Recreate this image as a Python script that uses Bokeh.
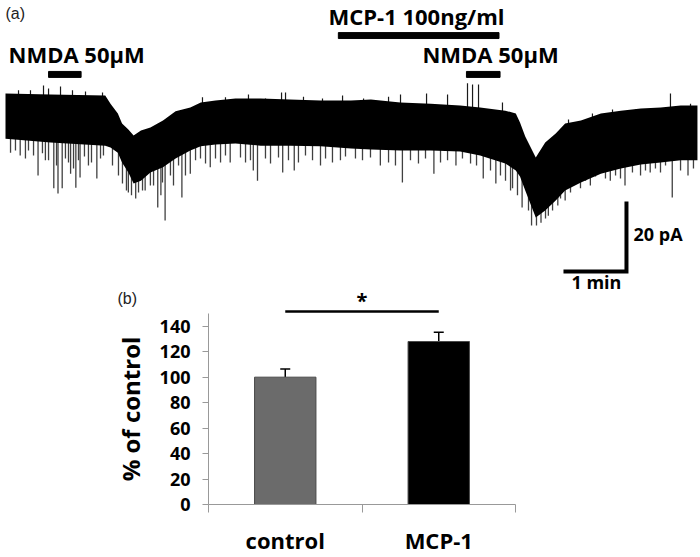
import numpy as np
from bokeh.plotting import figure
from bokeh.layouts import column
from bokeh.models import Range1d, ColumnDataSource, FixedTicker, Whisker, TeeHead
from bokeh.core.properties import value
from bokeh.embed import file_html
from bokeh.resources import INLINE

FONT = "Open Sans"

# ---------------- (a) whole-cell current trace (time in s, current in pA) ----------------
trace_t = [0, 43, 95, 100, 107, 111, 117, 122, 129, 138, 150, 162, 176, 186, 200, 219, 243,
           271, 300, 329, 348, 376, 405, 433, 452, 476, 486, 490, 495, 505, 514, 524, 533, 548,
           567, 586, 605, 624, 643, 659]
trace_upper = [0.0, -0.3, -0.6, -2.9, -5.7, -8.6, -10.3, -12.0, -10.6, -9.7, -7.7, -5.1, -4.0,
               -2.6, -2.0, -1.4, -1.4, -1.7, -2.0, -2.0, -1.7, -2.6, -2.9, -3.4, -4.0, -4.9,
               -5.7, -8.3, -12.3, -18.3, -14.0, -11.4, -8.6, -7.7, -5.7, -4.9, -4.3, -4.0,
               -3.4, -3.4]
trace_lower = [-12.9, -14.0, -14.9, -15.4, -16.9, -19.7, -22.6, -25.7, -24.9, -22.6, -21.1,
               -18.6, -16.3, -15.1, -14.6, -14.3, -14.9, -14.9, -15.1, -15.7, -16.0, -16.3,
               -16.3, -16.6, -17.7, -20.0, -22.0, -23.7, -27.7, -35.4, -33.4, -30.6, -27.7,
               -25.4, -22.9, -21.4, -20.3, -19.7, -19.1, -19.1]

# large inward events (downward deflections)
event_t = [14, 31, 38, 46, 50, 54, 62, 67, 71, 79, 87, 117, 124, 133, 138, 145, 148, 152, 168,
           176, 195, 214, 236, 240, 264, 275, 300, 319, 357, 378, 408, 429, 455, 467, 481, 492,
           501, 510, 517, 526, 533, 557, 576, 590, 614, 635, 650]
event_peak = [-17.7, -23.4, -19.1, -27.1, -28.6, -27.1, -22.9, -26.9, -24.0, -20.6, -24.3,
              -28.3, -30.0, -27.7, -26.3, -32.6, -29.1, -36.3, -29.7, -22.9, -21.1, -19.7,
              -22.0, -24.9, -22.6, -22.0, -20.6, -19.1, -20.6, -25.4, -22.9, -20.6, -24.3,
              -25.7, -27.7, -32.6, -37.7, -36.9, -34.9, -32.0, -30.6, -26.3, -24.9, -26.3,
              -22.6, -29.7, -23.4]

# smaller inward events
small_t = [4.8, 9.5, 19.0, 21.9, 26.7, 35.2, 41.0, 48.6, 57.1, 60.0, 64.8, 69.5, 75.2, 81.9,
           90.5, 93.3, 101.9, 107.6, 111.4, 115.2, 120.0, 126.7, 130.5, 141.0, 149.5, 157.1,
           160.0, 164.8, 171.4, 181.0, 185.7, 190.5, 200.0, 204.8, 209.5, 223.8, 228.6, 233.3,
           247.6, 252.4, 260.0, 269.5, 279.0, 285.7, 292.4, 304.8, 311.4, 323.8, 333.3, 340.0,
           347.6, 364.8, 371.4, 385.7, 393.3, 400.0, 414.3, 421.0, 435.2, 442.9, 448.6, 461.9,
           471.4, 476.2, 482.9, 487.6, 498.1, 505.7, 514.3, 521.0, 528.6, 538.1, 547.6, 552.4,
           561.9, 571.4, 581.0, 585.7, 597.1, 604.8, 609.5, 619.0, 623.8, 628.6, 642.9, 655.2]
small_peak = [-16.9, -16.3, -18.6, -16.3, -17.7, -17.1, -19.1, -20.6, -18.6, -19.7, -21.4,
              -19.1, -18.0, -19.7, -18.6, -17.7, -20.6, -23.4, -25.7, -27.7, -29.1, -28.3,
              -27.7, -26.3, -25.4, -23.4, -26.3, -20.6, -23.4, -19.1, -18.6, -20.0, -18.6,
              -19.7, -17.7, -18.3, -19.7, -19.1, -18.6, -20.0, -18.3, -19.1, -19.7, -17.7,
              -19.1, -18.6, -19.7, -18.0, -18.6, -19.1, -18.3, -19.7, -20.6, -19.1, -20.0,
              -18.6, -19.7, -19.1, -18.6, -20.0, -20.6, -22.0, -23.4, -24.9, -27.1, -29.1,
              -33.4, -37.7, -35.7, -33.4, -30.0, -28.3, -27.1, -24.9, -23.7, -24.3, -23.4,
              -24.3, -22.6, -23.4, -22.0, -21.4, -22.6, -20.6, -22.0, -21.4]

# upward deflections
up_t = [12.4, 23.8, 36.2, 41.0, 52.4, 63.8, 76.2, 92.4, 187.6, 209.5, 231.4, 247.6, 262.9,
        266.7, 283.8, 301.9, 321.0, 341.0, 364.8, 376.2, 401.0, 421.0, 440.0, 444.8, 450.5,
        473.3, 536.2, 559.0, 578.1, 600.0, 633.3, 652.4]
up_peak = [0.9, 0.9, 2.3, 1.4, 2.0, 0.9, 0.6, 0.3, -1.1, -1.1, -0.3, -1.4, 0.3, 0.3, -0.9,
           -1.4, -0.6, -1.4, -0.9, -0.3, 0.0, -0.3, 2.9, 2.6, 2.6, -2.6, -7.4, -5.7, -4.6,
           -4.6, 0.0, -2.9]

# drug applications (s)
nmda_on = [41, 439]
nmda_off = [72, 471]
mcp_on = [317]
mcp_off = [470]

scale_time = 60   # s  -> "1 min"
scale_curr = 20   # pA -> "20 pA"

# ---------------- (b) bar chart ----------------
groups = ["control", "MCP-1"]
means = [100, 128]
sems = [6.5, 7.3]
bar_colors = ["#6b6b6b", "#000000"]
y_ticks = [0, 20, 40, 60, 80, 100, 120, 140]

xpos = [i + 0.5 for i in range(len(groups))]

# ======================= panel (a) =======================
pa = figure(width=700, height=313, x_range=Range1d(-4.76, 661.9), y_range=Range1d(-62.86, 26.57),
            output_backend="svg", toolbar_location=None, x_axis_location=None,
            y_axis_location=None, min_border=0, min_border_left=0, min_border_right=0,
            min_border_top=0, min_border_bottom=0)
pa.frame_align = False
pa.grid.visible = False
pa.outline_line_color = None
# second x scale that lines up with the bar chart's category axis below
pa.extra_x_ranges = {"bars": Range1d(-208 / 153.5, 492 / 153.5)}

all_ev_t = event_t + small_t
all_ev_p = event_peak + small_peak
ev_base = np.interp(all_ev_t, trace_t, trace_lower) + 2
pa.segment(x0=all_ev_t, y0=ev_base, x1=all_ev_t, y1=all_ev_p, line_color="#404040",
           line_width=1.3)
up_base = np.interp(up_t, trace_t, trace_upper) - 1
pa.segment(x0=up_t, y0=up_base, x1=up_t, y1=up_peak, line_color="#1a1a1a", line_width=1.2)
pa.varea(x=trace_t, y1=trace_lower, y2=trace_upper, fill_color="black")

pa.quad(left=nmda_on, right=nmda_off, bottom=4.6, top=6.3, color="black")
pa.quad(left=mcp_on, right=mcp_off, bottom=15.7, top=17.4, color="black")

pa.text(x=[2.86, 397.1], y=[11.3, 11.3], text=["NMDA 50μM", "NMDA 50μM"], text_font=value(FONT),
        text_font_style="bold", text_font_size="22px", text_baseline="alphabetic",
        text_align="left", text_color="black")
pa.text(x=[307.6], y=[22.1], text=["MCP-1 100ng/ml"], text_font=value(FONT),
        text_font_style="bold", text_font_size="22px", text_baseline="alphabetic",
        text_align="left", text_color="black")
pa.text(x=[0], y=[25.4], text=["(a)"], text_font=value("Liberation Sans"),
        text_font_size="16px", text_baseline="top", text_align="left", text_color="#222222")

sx0, sy0 = 531.4, -50.86
pa.line(x=[sx0, sx0 + scale_time, sx0 + scale_time], y=[sy0, sy0, sy0 + scale_curr],
        line_width=4, line_color="black", line_join="miter")
pa.text(x=[598.1], y=[-40.2], text=[f"{scale_curr} pA"], text_font=value(FONT),
        text_font_style="bold", text_font_size="18px", text_baseline="alphabetic",
        text_align="left")
pa.text(x=[539.0], y=[-54.0], text=["1 min"], text_font=value(FONT),
        text_font_style="bold", text_font_size="18px", text_baseline="alphabetic",
        text_align="left")

# panel (b) heading, significance bar and star (drawn on the bar chart's x scale)
pa.text(x=[-0.593], y=[-58.6], text=["(b)"], text_font=value("Liberation Sans"),
        text_font_size="16px", text_baseline="middle", text_align="left", text_color="#222222",
        x_range_name="bars")
pa.line(x=[xpos[0], xpos[1]], y=[-62.3, -62.3], line_width=2.5, line_color="black",
        x_range_name="bars")
pa.text(x=[(xpos[0] + xpos[1]) / 2], y=[-59.2], text=["*"], text_font=value(FONT),
        text_font_style="bold", text_font_size="20px", text_align="center",
        text_baseline="middle", x_range_name="bars")

# ======================= panel (b) =======================
pb = figure(width=700, height=244, x_range=Range1d(0, 2), y_range=Range1d(0, 150),
            output_backend="svg", toolbar_location=None, min_border_left=208,
            min_border_right=185, min_border_top=0, min_border_bottom=50)
pb.frame_align = False
pb.grid.visible = False
pb.outline_line_color = None

src = ColumnDataSource(dict(x=xpos, top=means, color=bar_colors,
                            upper=[m + s for m, s in zip(means, sems)], lower=means))
pb.vbar(x="x", top="top", bottom=0, width=0.4, fill_color="color", line_color="#4a4a4a",
        line_width=1, source=src)
pb.add_layout(Whisker(base="x", upper="upper", lower="lower", source=src, line_width=1.5,
                      upper_head=TeeHead(size=10, line_width=1.5), lower_head=None))

ya = pb.yaxis[0]
ya.ticker = FixedTicker(ticks=y_ticks)
ya.bounds = (0, 150)
ya.axis_line_color = "#999999"
ya.major_tick_line_color = "#999999"
ya.major_tick_out = 6
ya.major_tick_in = 0
ya.minor_tick_line_color = None
ya.major_label_text_font = FONT
ya.major_label_text_font_style = "bold"
ya.major_label_text_font_size = "18px"
ya.major_label_text_color = "black"
ya.major_label_standoff = 12
ya.axis_label = "% of control"
ya.axis_label_text_font = FONT
ya.axis_label_text_font_style = "bold"
ya.axis_label_text_font_size = "24px"
ya.axis_label_text_color = "black"
ya.axis_label_standoff = 10

xa = pb.xaxis[0]
xa.ticker = FixedTicker(ticks=xpos, minor_ticks=[0, 1, 2])
xa.major_label_overrides = {xpos[i]: groups[i] for i in range(len(groups))}
xa.axis_line_color = "#999999"
xa.major_tick_line_color = None
xa.major_tick_out = 8
xa.major_tick_in = 0
xa.minor_tick_line_color = "#999999"
xa.minor_tick_out = 8
xa.minor_tick_in = 0
xa.major_label_text_font = FONT
xa.major_label_text_font_style = "bold"
xa.major_label_text_font_size = "22px"
xa.major_label_text_color = "black"
xa.major_label_standoff = 12

layout = column(pa, pb, spacing=0)
open("out.html", "w").write(file_html(layout, INLINE))
